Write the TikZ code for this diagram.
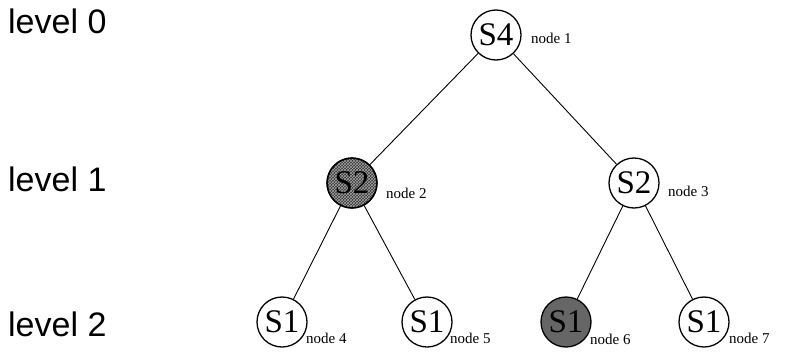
\documentclass[tikz,border=0pt]{standalone}
\usepackage{fontspec}
\setmainfont{Liberation Serif}
\newfontfamily\lvlfont{Liberation Sans}
\usetikzlibrary{patterns}
\begin{document}
\begin{tikzpicture}[x=1pt,y=-1pt,
  tnode/.style={circle,draw,line width=1.3pt,minimum size=50pt,inner sep=0pt,font=\fontsize{33}{33}\selectfont},
  nlabel/.style={anchor=west,font=\fontsize{15}{15}\selectfont,inner sep=0pt},
  lvl/.style={anchor=west,font=\lvlfont\fontsize{34}{34}\selectfont,inner sep=0pt},
  edge/.style={line width=0.9pt}]
\useasboundingbox (0,0) rectangle (797,356);
\node[lvl] (l0) at (8,21) {level 0};
\node[lvl] (l1) at (8,179) {level 1};
\node[lvl] (l2) at (8,324) {level 2};

\node[tnode] (n1) at (496,35) {S4};
\node[tnode,fill=black!80] (n2) at (352,183) {};
\fill[pattern=crosshatch,pattern color=black!35] (n2.center) circle (24pt);
\node[tnode] (n2b) at (352,183) {S2};
\node[tnode] (n3) at (634,183) {S2};
\node[tnode] (n4) at (282,322) {S1};
\node[tnode] (n5) at (427,322) {S1};
\node[tnode,fill=black!60] (n6) at (566,322) {S1};
\node[tnode] (n7) at (704,322) {S1};

\node[nlabel] (t1) at (531,38) {node 1};
\node[nlabel] (t2) at (386,193) {node 2};
\node[nlabel] (t3) at (668,191) {node 3};
\node[nlabel] (t4) at (306,338) {node 4};
\node[nlabel] (t5) at (450,338) {node 5};
\node[nlabel] (t6) at (590,339) {node 6};
\node[nlabel] (t7) at (729,338) {node 7};

\draw[edge] (n1) -- (n2b);
\draw[edge] (n1) -- (n3);
\draw[edge] (n2b) -- (n4);
\draw[edge] (n2b) -- (n5);
\draw[edge] (n3) -- (n6);
\draw[edge] (n3) -- (n7);
\end{tikzpicture}
\end{document}
